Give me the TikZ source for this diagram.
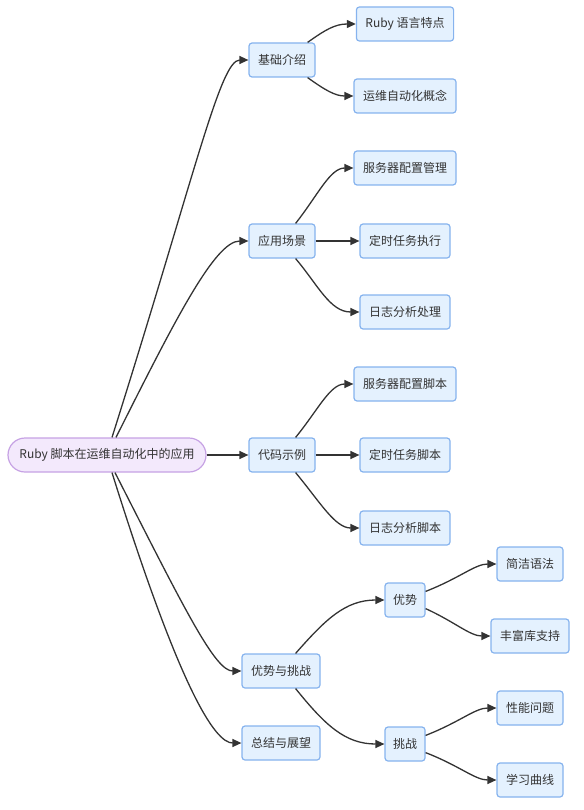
\documentclass[tikz,border=0pt]{standalone}
\usepackage{fontspec}
\setmainfont{Noto Sans CJK SC}
\usetikzlibrary{arrows.meta}
\definecolor{edgec}{HTML}{333333}
\definecolor{boxfill}{HTML}{E4F1FE}
\definecolor{boxline}{HTML}{86B3EE}
\definecolor{rootfill}{HTML}{F3E9FC}
\definecolor{rootline}{HTML}{C6A2E4}
\tikzset{
  box/.style={draw=boxline, fill=boxfill, line width=1.2pt, rounded corners=3pt,
    minimum height=34pt, inner xsep=9pt, inner ysep=0pt, text=edgec,
    font=\fontsize{12pt}{14pt}\selectfont},
  rootbox/.style={draw=rootline, fill=rootfill, line width=1.2pt, rounded corners=17pt,
    minimum height=34pt, minimum width=198pt, inner ysep=0pt, text=edgec,
    font=\fontsize{12pt}{14pt}\selectfont},
  link/.style={draw=edgec, line width=1.3pt, -{Triangle[length=9pt,width=8pt]}}
}
\begin{document}
\begin{tikzpicture}[x=1pt,y=-1pt]
\useasboundingbox (0,0) rectangle (583,810);
\node[rootbox] (root) at (107,455) {Ruby 脚本在运维自动化中的应用};
\node[box] (b1) at (282,60) {基础介绍};
\node[box] (b1a) at (405,24) {Ruby 语言特点};
\node[box] (b1b) at (405,96) {运维自动化概念};
\node[box] (b2) at (282,241) {应用场景};
\node[box] (b2a) at (405,168) {服务器配置管理};
\node[box] (b2b) at (405,241) {定时任务执行};
\node[box] (b2c) at (405,312) {日志分析处理};
\node[box] (b3) at (282,455) {代码示例};
\node[box] (b3a) at (405,384) {服务器配置脚本};
\node[box] (b3b) at (405,455) {定时任务脚本};
\node[box] (b3c) at (405,528) {日志分析脚本};
\node[box] (b4) at (281,671) {优势与挑战};
\node[box, inner xsep=8pt] (b4a) at (405,600) {优势};
\node[box] (b4a1) at (530,564) {简洁语法};
\node[box] (b4a2) at (530,636) {丰富库支持};
\node[box, inner xsep=8pt] (b4b) at (405,744) {挑战};
\node[box] (b4b1) at (530,708) {性能问题};
\node[box] (b4b2) at (530,780) {学习曲线};
\node[box] (b5) at (281,743) {总结与展望};

% root edges
\draw[link] ([xshift=5pt]root.north) .. controls (195,175) and (220,60) .. (b1.west);
\draw[link] ([xshift=9pt]root.north) .. controls (175,320) and (215,241) .. (b2.west);
\draw[link] (root.east) -- (b3.west);
\draw[link] ([xshift=8pt]root.south) .. controls (185,610) and (215,671) .. (b4.west);
\draw[link] ([xshift=5pt]root.south) .. controls (180,690) and (215,743) .. (b5.west);

% level 2
\draw[link] ([xshift=-8pt]b1.north east) .. controls (325,30) and (335,24) .. (b1a.west);
\draw[link] ([xshift=-8pt]b1.south east) .. controls (325,90) and (335,96) .. (b1b.west);

\draw[link] ([xshift=-20pt]b2.north east) .. controls (318,195) and (330,168) .. (b2a.west);
\draw[link] (b2.east) -- (b2b.west);
\draw[link] ([xshift=-20pt]b2.south east) .. controls (318,285) and (330,312) .. (b2c.west);

\draw[link] ([xshift=-20pt]b3.north east) .. controls (318,410) and (330,384) .. (b3a.west);
\draw[link] (b3.east) -- (b3b.west);
\draw[link] ([xshift=-20pt]b3.south east) .. controls (320,502) and (335,528) .. (b3c.west);

\draw[link] ([xshift=-25pt]b4.north east) .. controls (325,620) and (345,600) .. (b4a.west);
\draw[link] ([xshift=-25pt]b4.south east) .. controls (325,725) and (345,744) .. (b4b.west);

\draw[link] ([yshift=-9pt]b4a.north east) .. controls (460,578) and (475,564) .. (b4a1.west);
\draw[link] ([yshift=9pt]b4a.south east) .. controls (455,622) and (470,636) .. (b4a2.west);
\draw[link] ([yshift=-9pt]b4b.north east) .. controls (460,722) and (475,708) .. (b4b1.west);
\draw[link] ([yshift=9pt]b4b.south east) .. controls (460,766) and (475,780) .. (b4b2.west);
\end{tikzpicture}
\end{document}
